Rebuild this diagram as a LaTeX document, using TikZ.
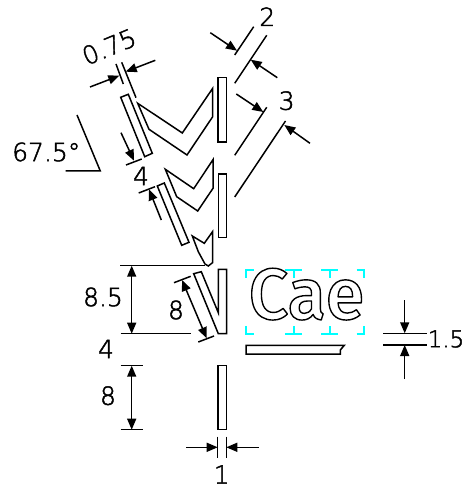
\documentclass[tikz,border=0pt]{standalone}
\usepackage{fontspec}
\setmainfont{DejaVu Sans}[UprightFont=* ExtraLight]
\newfontfamily\caefont{Fira Sans}[UprightFont=* Medium]
\usetikzlibrary{arrows.meta}
\definecolor{snapc}{RGB}{0,255,255}
\tikzset{
  every picture/.style={x=1pt,y=-1pt},
  part/.style={draw=black,line width=1.5pt,line join=miter,fill=white},
  ext/.style={draw=black,line width=1.5pt},
  dim/.style={draw=black,line width=1.5pt,-{Triangle[length=11pt,width=9pt]}},
  dimb/.style={draw=black,line width=1.5pt,{Triangle[length=11pt,width=9pt]}-{Triangle[length=11pt,width=9pt]}},
  lab/.style={font=\fontsize{25}{25}\selectfont,inner sep=0pt,text=black,
    execute at begin node={\special{pdf:literal direct 2 Tr 0.45 w}},
    execute at end node={\special{pdf:literal direct 0 Tr}}},
  snap/.style={draw=snapc,line width=2pt}
}
\begin{document}
\begin{tikzpicture}
\useasboundingbox (0,0) rectangle (465,486);
% parts
\draw[part] (120.7,97.3) -- (128.3,94.3) -- (152.3,153.3) -- (144.7,156.7) -- cycle;
\draw[part] (137.7,103.3) -- (182.3,133) -- (212.7,88.3) -- (212.7,116.7) -- (187,155) -- (149,129.3) -- cycle;
\draw[part] (218,77.7) rectangle (226.3,142);
\draw[part] (157.3,186) -- (164.3,183) -- (189,242.3) -- (181.7,245.3) -- cycle;
\draw[part] (165.3,169.3) -- (193.7,188.7) -- (213,159.7) -- (213,188.3) -- (197.7,211) -- (176.7,196.7) -- cycle;
\draw[part] (218.3,174) rectangle (226.7,237.7);
\draw[part] (192.3,236) -- (204.3,243.3) -- (212.5,231.7) -- (212.5,262.7) -- (208.3,266) -- (205,264) -- (198.3,251.7) -- cycle;
\draw[part] (218.3,269.3) -- (226.7,269.3) -- (226.7,333.7) -- (218.3,333.7) -- (193.7,273.7) -- (201.3,271.7) -- (218.3,312.7) -- cycle;
\draw[part] (218,365.3) rectangle (226.3,429.7);
\draw[part] (246,345.3) -- (344.3,345.3) -- (340.3,350) -- (340.3,354) -- (246,354) -- cycle;
% snap marks
\foreach \x in {293.5,329.5}{
  \draw[snap] (\x-8.5,269.5) -- (\x+8.5,269.5) (\x,269.5) -- (\x,277.5);
  \draw[snap] (\x-8.5,334) -- (\x+8.5,334) (\x,334) -- (\x,325.8);
}
\draw[snap] (245.7,277.5) -- (245.7,269.5) -- (253.5,269.5);
\draw[snap] (356.5,269.5) -- (364.3,269.5) -- (364.3,277.5);
\draw[snap] (245.7,325.8) -- (245.7,334) -- (253.5,334);
\draw[snap] (356.5,334) -- (364.3,334) -- (364.3,325.8);
% outlined text
\node[inner sep=0pt,anchor=base west,xscale=0.97,font=\caefont\fontsize{72}{72}\selectfont] (cae) at (248.5,319) {\special{pdf:literal direct 1 Tr 1.4 w 1 j}Cae\special{pdf:literal direct 0 Tr}};
% 0.75
\draw[ext] (116,64) -- (123.3,84);
\draw[ext] (121.7,62.3) -- (136,97.7);
\draw[dim] (90,87) -- (119.3,75.7);
\draw[dim] (155.3,60.3) -- (125.7,71.7);
\node[lab,rotate=22.5] (t075) at (109,46.7) {0.75};
% 2
\draw[ext] (253.7,26.7) -- (234.7,55);
\draw[ext] (266.7,35.3) -- (234.7,83.3);
\draw[dim] (210.3,32.7) -- (237,50.7);
\draw[dim] (277.3,77.7) -- (250.7,59.7);
\node[lab] (t2) at (267.3,16.7) {2};
% 3
\draw[ext] (266.7,107.3) -- (234.7,155.3);
\draw[ext] (285.5,121) -- (234.7,197);
\draw[dim] (236.3,94) -- (263.3,112);
\draw[dim] (310,143.3) -- (284.3,125);
\node[lab] (t3) at (286.7,100.7) {3};
% angle
\draw[ext] (77,115) -- (100.3,171) -- (65.7,171);
\node[lab,anchor=west] (t675) at (12,152) {67.5°};
% 4 upper
\draw[ext] (126,165) -- (141.7,159);
\draw[dim] (121,132.7) -- (134,160.7);
\node[lab] (t4a) at (141,176) {4};
\draw[ext] (138.7,193) -- (155,186.7);
\draw[dim] (161.3,220) -- (149,189.3);
% 8.5
\draw[ext] (120,265.7) -- (205.3,265.7);
\draw[ext] (120.7,333.7) -- (190.7,333.7);
\draw[dimb] (131.7,265.7) -- (131.7,333.7);
\node[lab] (t85) at (103,297) {8.5};
\node[lab] (t4b) at (106,349) {4};
% 8 slanted
\draw[ext] (174,282.7) -- (190.7,276.3);
\draw[ext] (198.3,342) -- (214,336);
\draw[dimb] (182,280) -- (206.7,338.3);
\node[lab] (t8a) at (176,310) {8};
% 8 lower
\draw[ext] (120.7,365.7) -- (142.7,365.7);
\draw[ext] (120.7,429.7) -- (142.7,429.7);
\draw[dimb] (131.7,365.7) -- (131.7,429.7);
\node[lab] (t8b) at (108,395.7) {8};
% 1
\draw[ext] (217.7,436.7) -- (217.7,458.3);
\draw[ext] (226.3,436.7) -- (226.3,458.3);
\draw[dim] (186,447.3) -- (217.7,447.3);
\draw[dim] (258.7,447.3) -- (226.3,447.3);
\node[lab] (t1) at (221.7,474.5) {1};
% 1.5
\draw[ext] (383,333.3) -- (426.7,333.3);
\draw[ext] (383,345) -- (426.7,345);
\draw[dim] (404.7,300) -- (404.7,333.3);
\draw[dim] (404.7,379) -- (404.7,345);
\node[lab,font=\fontsize{23}{23}\selectfont] (t15) at (446,339) {1.5};
\end{tikzpicture}
\end{document}
